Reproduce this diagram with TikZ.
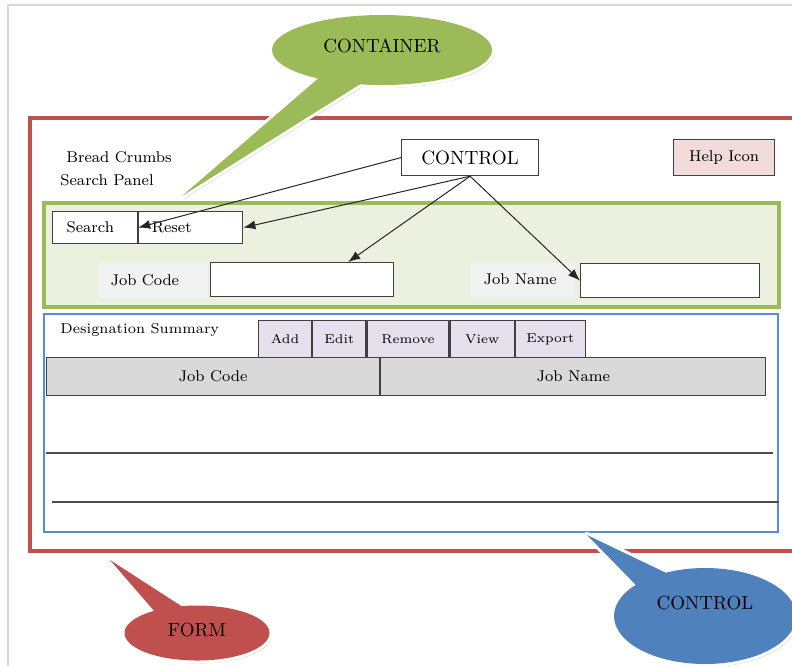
\documentclass[tikz,border=0pt]{standalone}
\usepackage{fontspec}
\usepackage{tikz}
\usetikzlibrary{shapes.callouts,arrows.meta,positioning,shadows,calc}
\definecolor{formred}{HTML}{C0504D}
\definecolor{panelgreen}{HTML}{9BBB59}
\definecolor{panelfill}{HTML}{EBF1DE}
\definecolor{gridblue}{HTML}{558ED5}
\definecolor{calloutblue}{HTML}{4F81BD}
\definecolor{helpfill}{HTML}{F2DCDB}
\definecolor{tabfill}{HTML}{E5E0EC}
\definecolor{headfill}{HTML}{D9D9D9}
\definecolor{labelfill}{HTML}{F2F2F2}

\begin{document}
\begin{tikzpicture}[x=0.5pt,y=-0.5pt,
  txt/.style={font=\fontsize{7.8}{9}\selectfont,inner sep=0pt,anchor=west},
  box/.style={draw=black!75,line width=0.6pt,fill=white,inner sep=0pt,anchor=north west,font=\fontsize{7.8}{9}\selectfont},
  tab/.style={box,fill=tabfill,minimum height=18.5pt,font=\fontsize{6.4}{8}\selectfont},
  hd/.style={box,fill=headfill,minimum height=19pt},
  lbl/.style={box,draw=none,fill=labelfill,align=left},
  arr/.style={-{Latex[length=6pt,width=4.5pt]},black!85,line width=0.5pt},
  bubble/.style={ellipse callout,callout pointer arc=24,
    drop shadow={opacity=0.35,shadow xshift=1pt,shadow yshift=-1.5pt},
    preaction={draw=white,line width=3pt,line join=round},font=\fontsize{9.5}{11}\selectfont}]
\useasboundingbox (0,0) rectangle (792,666);
\clip (0,0) rectangle (792,666);
% page and containers
\draw[black!15,line width=0.6pt] (8,666) |- (792,5);
\draw[formred,line width=1.6pt] (30,118) rectangle (830,551);
\draw[panelgreen,fill=panelfill,line width=1.6pt] (44,203) rectangle (779,307);
\draw[gridblue,fill=white,line width=1pt] (44,314) rectangle (778,532);
% header area
\node[txt] (crumbs) at (66,157) {Bread Crumbs};
\node[txt] (spanel) at (60,180) {Search Panel};
\node[box,minimum width=68.5pt,minimum height=18pt,font=\fontsize{9.6}{11}\selectfont] (ctl) at (401,139) {CONTROL};
\node[box,fill=helpfill,minimum width=50.5pt,minimum height=18pt] (help) at (673,139) {Help Icon};
% search panel
\node[box,minimum width=42.5pt,minimum height=16pt,text width=28.5pt,inner xsep=7pt,align=left] (search) at (52,211) {Search};
\node[box,minimum width=52pt,minimum height=16pt,text width=39pt,inner xsep=6.5pt,align=left,right=0pt of search] (reset) {Reset};
\node[lbl,minimum width=55pt,minimum height=17.5pt,text width=42pt,inner xsep=6.5pt] (jclbl) at (97,262) {Job Code};
\node[box,minimum width=91.5pt,minimum height=17pt] (jcin) at (210,262) {};
\node[lbl,minimum width=52.5pt,minimum height=17pt,text width=38.5pt,inner xsep=7pt] (jnlbl) at (469,262) {Job Name};
\node[box,minimum width=89.5pt,minimum height=17pt] (jnin) at (580,263) {};
% grid
\node[txt,font=\fontsize{7.2}{9}\selectfont] (dsum) at (60,330) {Designation Summary};
\node[tab,minimum width=26.5pt] (add) at (258,320) {Add};
\node[tab,minimum width=26.5pt,right=0pt of add] (edit) {Edit};
\node[tab,minimum width=41pt,right=0pt of edit] (remove) {Remove};
\node[tab,minimum width=32pt,right=0pt of remove] (view) {View};
\node[tab,minimum width=35pt,right=0pt of view] (export) {Export};
\node[hd,minimum width=166.5pt] (jchd) at (46,357) {Job Code};
\node[hd,minimum width=192.5pt,right=0pt of jchd] (jnhd) {Job Name};
\draw[gray!60!black,line width=0.6pt] (46,453) -- (773,453);
\draw[gray!60!black,line width=0.6pt] (52,502) -- (779,502);
% control arrows
\draw[arr] (ctl.west) -- (reset.west);
\draw[arr] (ctl.south) -- (reset.east);
\draw[arr] (ctl.south) -- ($(jcin.north west)!0.75!(jcin.north east)$);
\draw[arr] (ctl.south) -- (jnin.west);
% callouts
\node[bubble,fill=panelgreen,minimum width=110pt,minimum height=35pt,text depth=4pt,callout absolute pointer={(182,196)}] (contcall) at (382,50) {CONTAINER};
\node[bubble,fill=formred,minimum width=72.5pt,minimum height=27.5pt,text depth=3pt,callout absolute pointer={(110,560)}] (formcall) at (197,633) {FORM};
\node[bubble,fill=calloutblue,minimum width=91pt,minimum height=48pt,text depth=13pt,callout absolute pointer={(587,535)}] (ctlcall) at (705,616) {CONTROL};
\end{tikzpicture}
\end{document}
